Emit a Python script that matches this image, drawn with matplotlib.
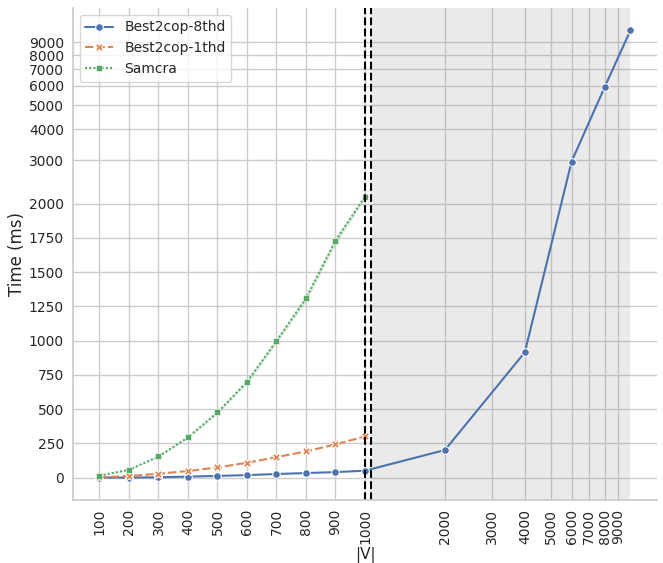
import matplotlib
matplotlib.use("Agg")
import matplotlib.pyplot as plt
import seaborn as sns
import numpy as np

sns.set_theme(style="whitegrid")

# |V| values
nodes_small = [100, 200, 300, 400, 500, 600, 700, 800, 900, 1000]
nodes_8thd = [100, 200, 300, 400, 500, 600, 700, 800, 900, 1000, 2000, 4000, 6000, 8000, 10000]

# times in ms
time_8thd = [1, 1, 3, 8, 13, 19, 27, 34, 41, 51, 202, 915, 2960, 5940, 10080]
time_1thd = [3, 12, 29, 49, 75, 109, 150, 192, 243, 301]
time_samcra = [15, 58, 155, 294, 476, 699, 997, 1308, 1728, 2134]
samcra_lo = [13, 55, 150, 287, 465, 684, 977, 1283, 1697, 2097]
samcra_hi = [17, 61, 160, 301, 487, 714, 1017, 1333, 1759, 2171]

xticks = [100, 200, 300, 400, 500, 600, 700, 800, 900, 1000,
          2000, 3000, 4000, 5000, 6000, 7000, 8000, 9000]
yticks = [0, 250, 500, 750, 1000, 1250, 1500, 1750, 2000,
          3000, 4000, 5000, 6000, 7000, 8000, 9000]

blue, orange, green = sns.color_palette("deep")[:3]

fig = plt.figure(figsize=(6.63, 5.63), dpi=100)
ax = fig.add_axes([0.110, 0.112, 0.881, 0.874])

ax.set_xscale("symlog", linthresh=1000)
ax.set_yscale("symlog", linthresh=2000)

ax.fill_between(nodes_small, samcra_lo, samcra_hi, color=green, alpha=0.2, lw=0)
ax.plot(nodes_8thd, time_8thd, color=blue, marker="o", ms=5.5, mec="white", mew=0.75,
        lw=1.5, label="Best2cop-8thd")
ax.plot(nodes_small, time_1thd, color=orange, marker="X", ms=5.5, mec="white", mew=0.75,
        lw=1.5, dashes=(4, 1.5), label="Best2cop-1thd")
ax.plot(nodes_small, time_samcra, color=green, marker=(4, 0, 45), ms=5.5, mec="white", mew=0.4,
        lw=1.5, dashes=(1, 1), label="Samcra")

ax.axvline(1000, color="black", ls="--", lw=1.5)
ax.axvline(1050, color="black", ls="--", lw=1.5)
ax.axvspan(1050, 10000, color="grey", alpha=0.16, lw=0)

ax.set_xticks(xticks)
ax.set_xticklabels([str(t) for t in xticks], rotation=90)
ax.set_yticks(yticks)
ax.set_yticklabels([str(t) for t in yticks])
ax.minorticks_off()
ax.tick_params(labelsize=10, colors=".15")
ax.tick_params(axis="y", pad=0.5)
ax.tick_params(axis="x", pad=0.5)
ax.spines["top"].set_visible(False)
ax.spines["right"].set_visible(False)

ax.set_xlabel("|V|", fontsize=11, labelpad=2)
ax.set_ylabel("Time (ms)", fontsize=12, labelpad=2)
ax.legend(loc="upper left", fontsize=10)

fig.savefig("out.png", dpi=100)
